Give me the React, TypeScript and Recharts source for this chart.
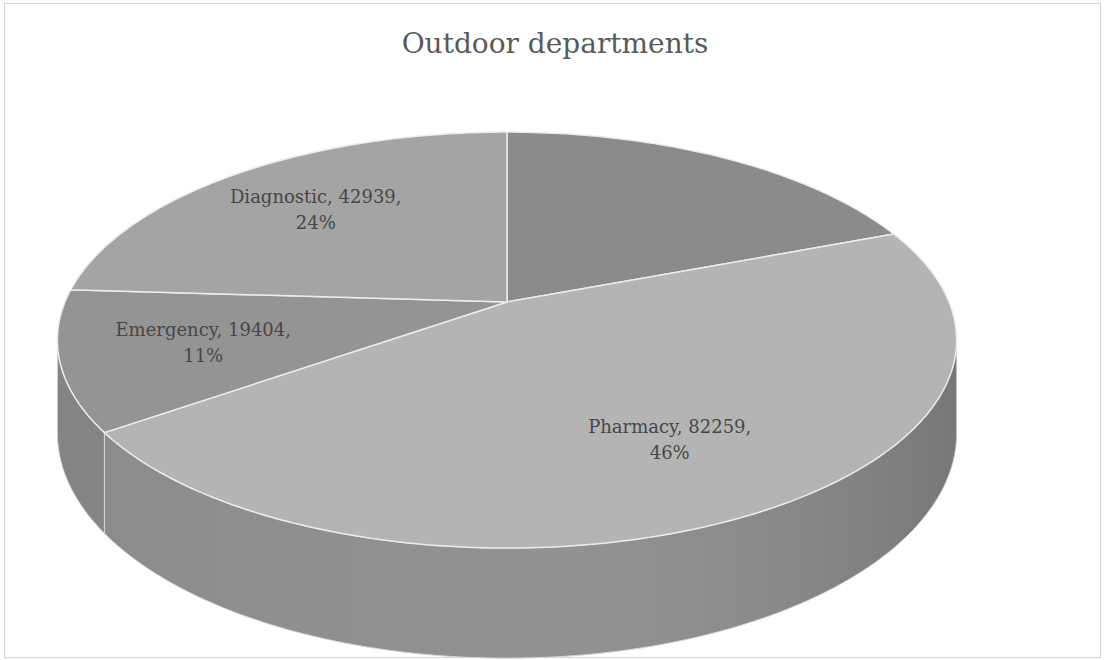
import { PieChart, Pie } from 'recharts'

// department totals
const departments = ['OPD', 'Pharmacy', 'Emergency', 'Diagnostic']
const patients = [34222, 82259, 19404, 42939]
const topColors = ['#8b8b8b', '#b4b4b4', '#949494', '#a4a4a4']
const sideColors = ['#767676', '#8f8f8f', '#888888', '#8c8c8c']
const showLabel = [false, true, true, true]

const rows = departments.map((name, i) => ({ name, value: patients[i] }))

const SERIF = "'DejaVu Serif', 'Liberation Serif', serif"

// perspective of the tilted disc
const TILT = 0.183
const RX = 2.21
const RY = 1.005
const DEPTH = 0.45
const LABEL_R = 0.69

const project = (cx: number, cy: number, r: number, f: number, deg: number) => {
  const a = (deg * Math.PI) / 180
  const u = f * Math.cos(a)
  const v = f * Math.sin(a)
  const w = 1 + TILT * v
  return [cx + (r * RX * u) / w, cy - (r * RY * v) / w]
}

const arc = (cx: number, cy: number, r: number, from: number, to: number, drop = 0) => {
  const pts: string[] = []
  const n = Math.max(2, Math.ceil(Math.abs(to - from)))
  for (let i = 0; i <= n; i++) {
    const d = from + ((to - from) * i) / n
    const [x, y] = project(cx, cy, r, 1, d)
    const w = 1 + TILT * Math.sin((d * Math.PI) / 180)
    pts.push(`${x.toFixed(2)},${(y + (drop * r) / w).toFixed(2)}`)
  }
  return pts
}

const renderWall = (props: any) => {
  const { cx, cy, outerRadius, startAngle, endAngle, index } = props
  const lo = Math.min(startAngle, endAngle)
  const hi = Math.max(startAngle, endAngle)
  const edge = (Math.asin(TILT) * 180) / Math.PI
  const parts: any[] = []
  ;[-360, 0, 360].forEach((shift) => {
    const a1 = Math.max(lo, 180 + edge + shift)
    const a2 = Math.min(hi, 360 - edge + shift)
    if (a2 <= a1) return
    const top = arc(cx, cy, outerRadius, a1, a2)
    const bottom = arc(cx, cy, outerRadius, a2, a1, DEPTH)
    const d = `M${top.join('L')}L${bottom.join('L')}Z`
    parts.push(
      <g key={shift}>
        <path d={d} fill={sideColors[index]} stroke="#d8d8d8" strokeWidth={1} />
        <path d={d} fill={`url(#wallShade${index})`} stroke="none" />
      </g>
    )
  })
  return (
    <g key={`wall-${index}`}>
      <defs>
        <linearGradient id={`wallShade${index}`} gradientUnits="userSpaceOnUse" x1={cx - outerRadius * RX} y1={0} x2={cx + outerRadius * RX} y2={0}>
          <stop offset="0%" stopColor="#000" stopOpacity={0.03} />
          <stop offset="45%" stopColor="#fff" stopOpacity={0.02} />
          <stop offset="100%" stopColor="#000" stopOpacity={0.16} />
        </linearGradient>
      </defs>
      {parts}
    </g>
  )
}

const renderTop = (props: any) => {
  const { cx, cy, outerRadius, startAngle, endAngle, index } = props
  const pts = arc(cx, cy, outerRadius, startAngle, endAngle)
  return (
    <path
      key={`top-${index}`}
      d={`M${cx},${cy}L${pts.join('L')}Z`}
      fill={topColors[index]}
      stroke="#ececec"
      strokeWidth={1.5}
      strokeLinejoin="round"
    />
  )
}

const renderText = (props: any) => {
  const { cx, cy, outerRadius, midAngle, index, name, value, percent } = props
  if (!showLabel[index]) return <g key={`txt-${index}`} />
  const [x, y] = project(cx, cy, outerRadius, LABEL_R, midAngle)
  const style = { fontFamily: SERIF, fontSize: 18 }
  return (
    <g key={`txt-${index}`}>
      <text x={x} y={y - 6} textAnchor="middle" fill="#474747" style={style}>
        {`${name}, ${value},`}
      </text>
      <text x={x} y={y + 20} textAnchor="middle" fill="#474747" style={style}>
        {`${Math.round(percent * 100)}%`}
      </text>
    </g>
  )
}

export default function App() {
  const pieProps = {
    data: rows,
    dataKey: 'value',
    nameKey: 'name',
    cx: 502,
    cy: 297,
    outerRadius: 200,
    startAngle: 90,
    endAngle: -270,
    fill: 'none',
    stroke: 'none',
    labelLine: false,
    isAnimationActive: false,
  }

  return (
    <div style={{ position: 'absolute', left: 0, top: 0, width: 1106, height: 660, background: '#fff' }}>
      <div
        style={{
          position: 'absolute',
          left: 4,
          top: 3,
          width: 1095,
          height: 653,
          border: '1px solid #d4d4d4',
        }}
      />
      <div
        style={{
          position: 'absolute',
          left: 0,
          top: 27,
          width: 1110,
          textAlign: 'center',
          fontFamily: SERIF,
          fontSize: 28,
          color: '#5a5a5a',
        }}
      >
        Outdoor departments
      </div>
      <div style={{ position: 'absolute', left: 0, top: 0 }}>
        <PieChart width={1106} height={660}>
          <Pie {...pieProps} label={renderWall} />
          <Pie {...pieProps} label={renderTop} />
          <Pie {...pieProps} label={renderText} />
        </PieChart>
      </div>
    </div>
  )
}
